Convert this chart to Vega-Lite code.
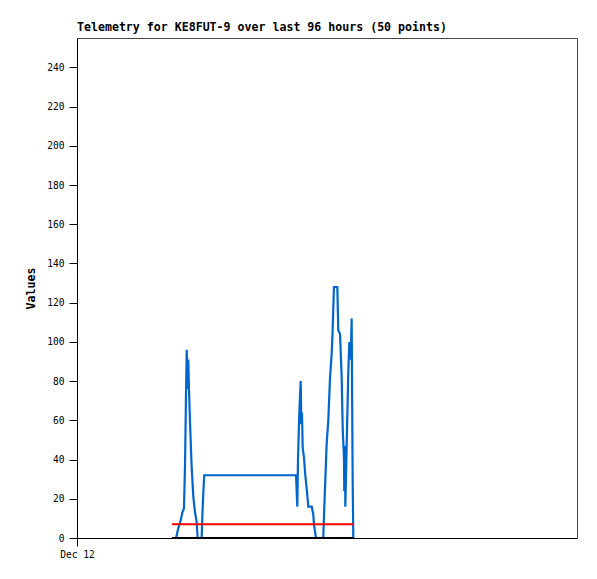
{
  "$schema": "https://vega.github.io/schema/vega-lite/v6.json",
  "width": 500,
  "height": 500,
  "autosize": "none",
  "padding": {"left": 77, "top": 38, "right": 20, "bottom": 41},
  "background": "white",
  "title": {
    "text": "Telemetry for KE8FUT-9 over last 96 hours (50 points)",
    "anchor": "start",
    "frame": "group",
    "font": "DejaVu Sans Mono",
    "fontSize": 11.6,
    "fontWeight": "bold",
    "color": "black",
    "offset": 4
  },
  "config": {
    "view": {"stroke": "#444444", "strokeWidth": 1},
    "axis": {
      "labelFont": "DejaVu Sans Mono",
      "labelFontSize": 9.6,
      "labelColor": "black",
      "domainColor": "black",
      "tickColor": "black",
      "grid": false,
      "titleFont": "DejaVu Sans Mono",
      "titleFontSize": 11.6,
      "titleFontWeight": "bold",
      "titleColor": "black"
    }
  },
  "data": {
    "values": [
      {"t": "2023-12-12T18:14:00Z", "blue": 0, "red": 7, "black": 0},
      {"t": "2023-12-12T19:01:00Z", "blue": 0, "red": 7, "black": 0},
      {"t": "2023-12-12T19:27:00Z", "blue": 5, "red": 7, "black": 0},
      {"t": "2023-12-12T19:55:00Z", "blue": 9, "red": 7, "black": 0},
      {"t": "2023-12-12T20:13:00Z", "blue": 13, "red": 7, "black": 0},
      {"t": "2023-12-12T20:32:00Z", "blue": 15, "red": 7, "black": 0},
      {"t": "2023-12-12T20:44:00Z", "blue": 36, "red": 7, "black": 0},
      {"t": "2023-12-12T20:56:00Z", "blue": 74, "red": 7, "black": 0},
      {"t": "2023-12-12T21:04:00Z", "blue": 96, "red": 7, "black": 0},
      {"t": "2023-12-12T21:15:00Z", "blue": 76, "red": 7, "black": 0},
      {"t": "2023-12-12T21:22:00Z", "blue": 91, "red": 7, "black": 0},
      {"t": "2023-12-12T21:30:00Z", "blue": 76, "red": 7, "black": 0},
      {"t": "2023-12-12T21:42:00Z", "blue": 59, "red": 7, "black": 0},
      {"t": "2023-12-12T22:01:00Z", "blue": 36, "red": 7, "black": 0},
      {"t": "2023-12-12T22:20:00Z", "blue": 21, "red": 7, "black": 0},
      {"t": "2023-12-12T22:40:00Z", "blue": 13, "red": 7, "black": 0},
      {"t": "2023-12-12T22:59:00Z", "blue": 8, "red": 7, "black": 0},
      {"t": "2023-12-12T23:10:00Z", "blue": 0, "red": 7, "black": 0},
      {"t": "2023-12-12T23:56:00Z", "blue": 0, "red": 7, "black": 0},
      {"t": "2023-12-13T00:04:00Z", "blue": 11, "red": 7, "black": 0},
      {"t": "2023-12-13T00:15:00Z", "blue": 23, "red": 7, "black": 0},
      {"t": "2023-12-13T00:26:00Z", "blue": 32, "red": 7, "black": 0},
      {"t": "2023-12-13T18:03:00Z", "blue": 32, "red": 7, "black": 0},
      {"t": "2023-12-13T18:18:00Z", "blue": 16, "red": 7, "black": 0},
      {"t": "2023-12-13T18:26:00Z", "blue": 40, "red": 7, "black": 0},
      {"t": "2023-12-13T18:41:00Z", "blue": 64, "red": 7, "black": 0},
      {"t": "2023-12-13T18:57:00Z", "blue": 80, "red": 7, "black": 0},
      {"t": "2023-12-13T19:04:00Z", "blue": 58, "red": 7, "black": 0},
      {"t": "2023-12-13T19:12:00Z", "blue": 64, "red": 7, "black": 0},
      {"t": "2023-12-13T19:20:00Z", "blue": 46, "red": 7, "black": 0},
      {"t": "2023-12-13T19:35:00Z", "blue": 41, "red": 7, "black": 0},
      {"t": "2023-12-13T19:50:00Z", "blue": 32, "red": 7, "black": 0},
      {"t": "2023-12-13T20:06:00Z", "blue": 25, "red": 7, "black": 0},
      {"t": "2023-12-13T20:25:00Z", "blue": 16, "red": 7, "black": 0},
      {"t": "2023-12-13T21:04:00Z", "blue": 16, "red": 7, "black": 0},
      {"t": "2023-12-13T21:22:00Z", "blue": 12, "red": 7, "black": 0},
      {"t": "2023-12-13T21:30:00Z", "blue": 7, "red": 7, "black": 0},
      {"t": "2023-12-13T21:53:00Z", "blue": 0, "red": 7, "black": 0},
      {"t": "2023-12-13T23:17:00Z", "blue": 0, "red": 7, "black": 0},
      {"t": "2023-12-13T23:29:00Z", "blue": 16, "red": 7, "black": 0},
      {"t": "2023-12-13T23:56:00Z", "blue": 48, "red": 7, "black": 0},
      {"t": "2023-12-14T00:15:00Z", "blue": 60, "red": 7, "black": 0},
      {"t": "2023-12-14T00:35:00Z", "blue": 82, "red": 7, "black": 0},
      {"t": "2023-12-14T00:54:00Z", "blue": 94, "red": 7, "black": 0},
      {"t": "2023-12-14T01:05:00Z", "blue": 106, "red": 7, "black": 0},
      {"t": "2023-12-14T01:20:00Z", "blue": 128, "red": 7, "black": 0},
      {"t": "2023-12-14T01:59:00Z", "blue": 128, "red": 7, "black": 0},
      {"t": "2023-12-14T02:10:00Z", "blue": 106, "red": 7, "black": 0},
      {"t": "2023-12-14T02:30:00Z", "blue": 104, "red": 7, "black": 0},
      {"t": "2023-12-14T02:49:00Z", "blue": 82, "red": 7, "black": 0},
      {"t": "2023-12-14T03:01:00Z", "blue": 56, "red": 7, "black": 0},
      {"t": "2023-12-14T03:16:00Z", "blue": 40, "red": 7, "black": 0},
      {"t": "2023-12-14T03:19:00Z", "blue": 24, "red": 7, "black": 0},
      {"t": "2023-12-14T03:28:00Z", "blue": 47, "red": 7, "black": 0},
      {"t": "2023-12-14T03:31:00Z", "blue": 16, "red": 7, "black": 0},
      {"t": "2023-12-14T03:47:00Z", "blue": 48, "red": 7, "black": 0},
      {"t": "2023-12-14T04:05:00Z", "blue": 84, "red": 7, "black": 0},
      {"t": "2023-12-14T04:17:00Z", "blue": 100, "red": 7, "black": 0},
      {"t": "2023-12-14T04:33:00Z", "blue": 91, "red": 7, "black": 0},
      {"t": "2023-12-14T04:44:00Z", "blue": 112, "red": 7, "black": 0},
      {"t": "2023-12-14T04:56:00Z", "blue": 28, "red": 7, "black": 0},
      {"t": "2023-12-14T05:03:00Z", "blue": 0, "red": 7, "black": 0},
      {"t": "2023-12-14T05:11:00Z", "blue": 0, "red": 7, "black": 0}
    ]
  },
  "encoding": {
    "x": {
      "field": "t",
      "type": "temporal",
      "scale": {
        "type": "utc",
        "domain": [
          {"year": 2023, "month": 12, "date": 12, "hours": 0, "utc": true},
          {"year": 2023, "month": 12, "date": 16, "hours": 0, "utc": true}
        ]
      },
      "axis": {
        "title": null,
        "values": [{"year": 2023, "month": 12, "date": 12, "hours": 0, "utc": true}],
        "labelExpr": "utcFormat(datum.value, '%b %d')",
        "tickSize": 8,
        "labelPadding": 3,
        "labelFlush": false
      }
    }
  },
  "layer": [
    {
      "mark": {"type": "line", "color": "#0066cc", "strokeWidth": 2.2},
      "encoding": {
        "y": {
          "field": "blue",
          "type": "quantitative",
          "scale": {"domain": [0, 255], "nice": false},
          "axis": {
            "title": "Values",
            "values": [0, 20, 40, 60, 80, 100, 120, 140, 160, 180, 200, 220, 240],
            "tickSize": 8,
            "labelPadding": 5,
            "titleAngle": -90,
            "titleX": -46,
            "titleY": 250,
            "titleAlign": "center",
            "titleBaseline": "middle"
          }
        }
      }
    },
    {
      "mark": {"type": "line", "color": "#ff0000", "strokeWidth": 2},
      "encoding": {"y": {"field": "red", "type": "quantitative"}}
    },
    {
      "mark": {"type": "line", "color": "#000000", "strokeWidth": 2},
      "encoding": {"y": {"field": "black", "type": "quantitative"}}
    }
  ]
}
